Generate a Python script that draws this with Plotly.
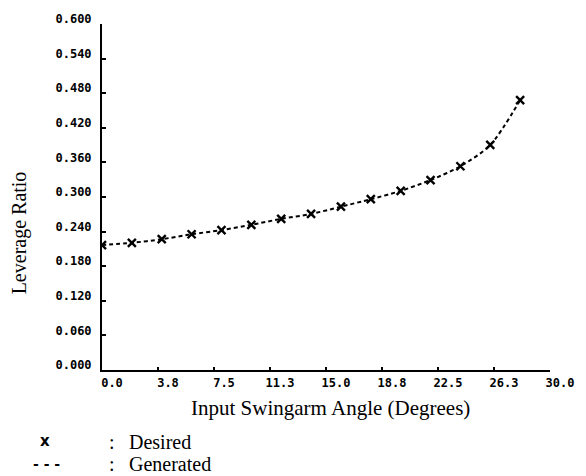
import plotly.graph_objects as go

# Data
swingarm_angle = [0, 2, 4, 6, 8, 10, 12, 14, 16, 18, 20, 22, 24, 26, 28]
desired_ratio = [0.2166, 0.2205, 0.2268, 0.2354, 0.2427, 0.2518, 0.2621, 0.2706,
                 0.2832, 0.2962, 0.3106, 0.3294, 0.3533, 0.3903, 0.4680]
generated_ratio = [0.2166, 0.2205, 0.2268, 0.2354, 0.2427, 0.2518, 0.2621, 0.2706,
                   0.2832, 0.2962, 0.3106, 0.3294, 0.3533, 0.3903, 0.4680]

x_tick_vals = [0, 3.75, 7.5, 11.25, 15, 18.75, 22.5, 26.25, 30]
x_tick_text = ["0.0", "3.8", "7.5", "11.3", "15.0", "18.8", "22.5", "26.3", "30.0"]
y_tick_vals = [0, 0.06, 0.12, 0.18, 0.24, 0.30, 0.36, 0.42, 0.48, 0.54, 0.60]
y_tick_text = ["0.000", "0.060", "0.120", "0.180", "0.240", "0.300", "0.360",
               "0.420", "0.480", "0.540", "0.600"]

W, H = 586, 476
L, R, T, B = 102, 34, 19, 106
pw, ph = W - L - R, H - T - B


def px(xp):
    return (xp - L) / pw


def py(yp):
    return (H - B - yp) / ph


fig = go.Figure()
fig.add_trace(go.Scatter(
    x=swingarm_angle, y=generated_ratio, mode="lines", name="Generated",
    line=dict(color="black", width=2, dash="4px,3px", shape="spline", smoothing=0.8),
    showlegend=False))
fig.add_trace(go.Scatter(
    x=swingarm_angle, y=desired_ratio, mode="markers", name="Desired",
    marker=dict(symbol="x-thin", size=8, line=dict(color="black", width=2.4), color="black"),
    showlegend=False))

tick_font = dict(family="DejaVu Sans Mono", size=12, color="black", weight="bold")
serif = dict(family="Liberation Serif", size=20, color="black")

fig.update_xaxes(range=[0, 30], tickmode="array", tickvals=x_tick_vals, ticktext=x_tick_text,
                 showline=True, linecolor="black", linewidth=2, showgrid=False, zeroline=False,
                 ticks="inside", ticklen=3, tickwidth=1.5, tickcolor="black",
                 tickfont=tick_font, ticklabelshift=10, ticklabelstandoff=1)
fig.update_yaxes(range=[0, 0.6], tickmode="array", tickvals=y_tick_vals, ticktext=y_tick_text,
                 showline=True, linecolor="black", linewidth=2, showgrid=False, zeroline=False,
                 ticks="inside", ticklen=4, tickwidth=1.5, tickcolor="black",
                 tickfont=tick_font, ticklabelshift=-5, ticklabelstandoff=6)

annotations = [
    dict(text="Leverage Ratio", x=px(20), y=py(231), textangle=-90, font=serif),
    dict(text="Input Swingarm Angle (Degrees)", x=px(332), y=py(409),
         font=dict(family="Liberation Serif", size=21, color="black")),
    dict(text="x", x=px(45), y=py(442), font=dict(family="DejaVu Sans", size=15, color="black", weight="bold")),
    dict(text=":", x=px(112), y=py(443), font=serif),
    dict(text="Desired", x=px(127), y=py(443), xanchor="left", font=serif),
    dict(text="- - -", x=px(46), y=py(465), font=dict(family="DejaVu Sans", size=14, color="black", weight="bold")),
    dict(text=":", x=px(112), y=py(465), font=serif),
    dict(text="Generated", x=px(127), y=py(465), xanchor="left", font=serif),
]
for a in annotations:
    a.setdefault("xanchor", "center")
    a.update(xref="paper", yref="paper", yanchor="middle", showarrow=False)

fig.update_layout(width=W, height=H, margin=dict(l=L, r=R, t=T, b=B),
                  paper_bgcolor="white", plot_bgcolor="white",
                  annotations=annotations, showlegend=False)

fig.write_html("out.html", config={"displayModeBar": False},
               post_script="document.body.style.margin='0';document.body.style.overflow='hidden';")
